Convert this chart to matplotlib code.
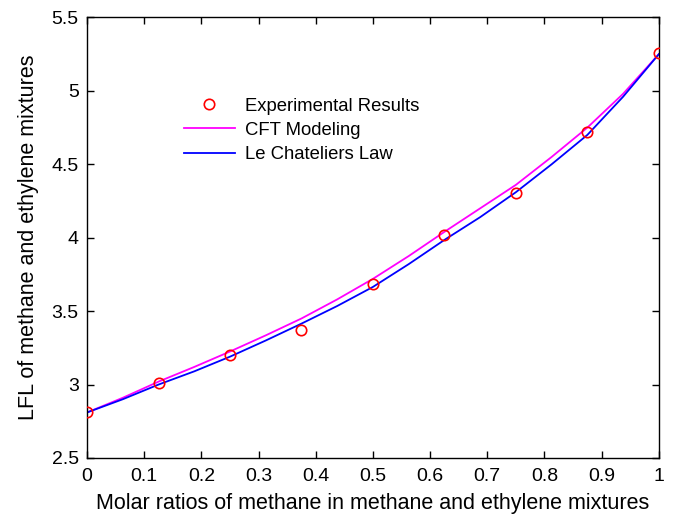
import matplotlib
matplotlib.use("Agg")
import matplotlib.pyplot as plt

plt.rcParams['font.family'] = ['Liberation Sans', 'DejaVu Sans']

exp_x = [0, 0.125, 0.25, 0.375, 0.5, 0.625, 0.75, 0.875, 1.0]
exp_y = [2.81, 3.01, 3.20, 3.37, 3.685, 4.02, 4.305, 4.72, 5.255]

line_x = [0, 0.0625, 0.125, 0.1875, 0.25, 0.3125, 0.375, 0.4375, 0.5,
          0.5625, 0.625, 0.6875, 0.75, 0.8125, 0.875, 0.9375, 1.0]
cft_y = [2.81, 2.91, 3.02, 3.12, 3.225, 3.335, 3.45, 3.58, 3.72,
         3.875, 4.04, 4.20, 4.36, 4.55, 4.75, 4.98, 5.25]
lech_y = [2.81, 2.90, 3.00, 3.09, 3.19, 3.30, 3.415, 3.535, 3.665,
          3.82, 3.985, 4.14, 4.31, 4.50, 4.70, 4.96, 5.25]

xticks = [0, 0.1, 0.2, 0.3, 0.4, 0.5, 0.6, 0.7, 0.8, 0.9, 1]
xticklabels = ['0', '0.1', '0.2', '0.3', '0.4', '0.5', '0.6', '0.7', '0.8', '0.9', '1']
yticks = [2.5, 3, 3.5, 4, 4.5, 5, 5.5]
yticklabels = ['2.5', '3', '3.5', '4', '4.5', '5', '5.5']

fig = plt.figure(figsize=(6.75, 5.14), dpi=100)
ax = fig.add_axes([0.129, 0.109, 0.847, 0.857])

ax.plot(exp_x, exp_y, 'o', mfc='none', mec='red', ms=7.5, mew=1.2,
        label='Experimental Results', zorder=3)
ax.plot(line_x, cft_y, color='magenta', lw=1.3, label='CFT Modeling')
ax.plot(line_x, lech_y, color='blue', lw=1.3, label='Le Chateliers Law')

ax.set_xlim(0, 1)
ax.set_ylim(2.5, 5.5)
ax.set_xticks(xticks)
ax.set_xticklabels(xticklabels)
ax.set_yticks(yticks)
ax.set_yticklabels(yticklabels)
ax.tick_params(direction='in', top=True, right=True, length=5, width=1,
               labelsize=14)
ax.tick_params(axis='x', pad=7)
ax.tick_params(axis='y', pad=6)
for s in ax.spines.values():
    s.set_linewidth(1.0)

ax.set_xlabel('Molar ratios of methane in methane and ethylene mixtures',
              fontsize=15.5, labelpad=6)
ax.set_ylabel('LFL of methane and ethylene mixtures', fontsize=15.5, labelpad=9)

ax.legend(loc='upper left', bbox_to_anchor=(0.14, 0.856), frameon=False,
          fontsize=13.3, handlelength=2.76, labelspacing=0.4, handletextpad=0.55)

fig.savefig('out.png', dpi=100)
